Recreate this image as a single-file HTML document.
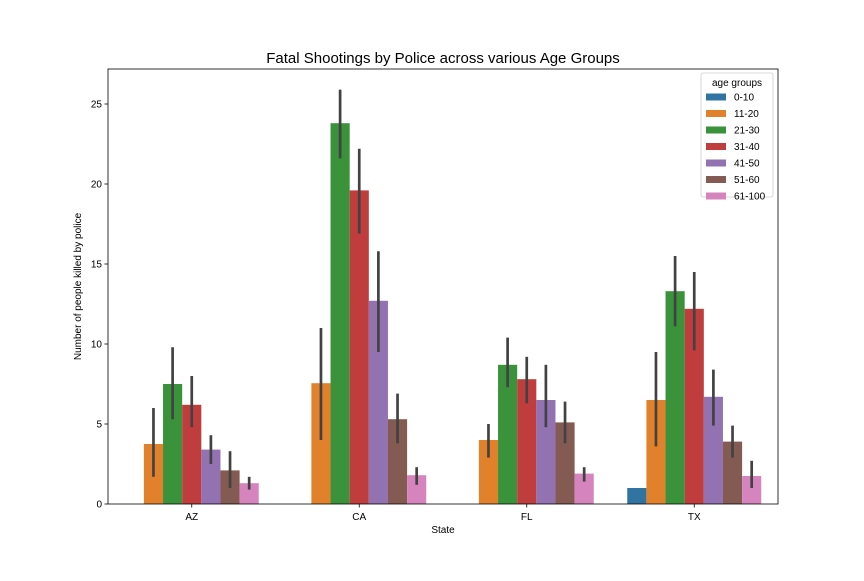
<!DOCTYPE html>
<html><head><meta charset="utf-8"><style>
body{margin:0;background:#fff;font-family:"Liberation Sans","DejaVu Sans",sans-serif}
</style></head><body>
<svg id="c" width="864" height="576" xmlns="http://www.w3.org/2000/svg"></svg>
<script>
const states=["AZ","CA","FL","TX"];
const groups=["0-10","11-20","21-30","31-40","41-50","51-60","61-100"];
const colors=["#3274a1","#e1812c","#3a923a","#c03d3e","#9372b2","#845b53","#d684bd"];
const vals=[[null,3.75,7.5,6.2,3.4,2.1,1.3],[null,7.55,23.8,19.6,12.7,5.3,1.8],[null,4.0,8.7,7.8,6.5,5.1,1.9],[1.0,6.5,13.3,12.2,6.7,3.9,1.75]];
const errLo=[[null,1.7,5.3,4.8,2.5,1.0,0.9],[null,4.0,21.6,16.9,9.5,3.8,1.2],[null,2.9,7.3,6.3,4.8,3.8,1.4],[null,3.6,11.1,9.6,4.9,2.9,1.0]];
const errHi=[[null,6.0,9.8,8.0,4.3,3.3,1.7],[null,11.0,25.9,22.2,15.8,6.9,2.3],[null,5.0,10.4,9.2,8.7,6.4,2.3],[null,9.5,15.5,14.5,8.4,4.9,2.7]];
const yTicks=[0,5,10,15,20,25];
const L=108,R=778,T=69,B=504,NS="http://www.w3.org/2000/svg";
const svg=document.getElementById('c');
const y=v=>B-v*16;
const gw=(R-L)/states.length, bw=gw*0.8/groups.length;
const x=(si,gi)=>L+gw*si+gw*0.1+bw*gi;
function el(t,a,txt){const e=document.createElementNS(NS,t);for(const k in a)e.setAttribute(k,a[k]);if(txt!=null)e.textContent=txt;svg.appendChild(e);return e;}
states.forEach((s,si)=>groups.forEach((g,gi)=>{
  const v=vals[si][gi]; if(v==null)return;
  const r=el('rect',{x:x(si,gi),y:y(v),width:bw,height:B-y(v),fill:colors[gi]});
  
  
  if(errLo[si][gi]!=null){
    const cx=x(si,gi)+bw/2;
    const l=el('line',{x1:cx,x2:cx,y1:y(errLo[si][gi]),y2:y(errHi[si][gi]),stroke:'#424242','stroke-width':2.7});
    
    
  }
}));
const fr=el('rect',{x:L,y:T,width:R-L,height:B-T,fill:'none',stroke:'#000','stroke-width':0.8});


yTicks.forEach(t=>{
  el('line',{x1:L-3.5,x2:L,y1:y(t),y2:y(t),stroke:'#000','stroke-width':0.8});
  const tx=el('text',{x:L-6,y:y(t)+3.5,'text-anchor':'end','font-size':10},t);
  
  
});
states.forEach((s,si)=>{
  const cx=L+gw*(si+0.5);
  el('line',{x1:cx,x2:cx,y1:B,y2:B+3.5,stroke:'#000','stroke-width':0.8});
  const tx=el('text',{x:cx,y:B+16,'text-anchor':'middle','font-size':10},s);
  
  
});
let e=el('text',{x:(L+R)/2,y:533,'text-anchor':'middle','font-size':10},'State');


e=el('text',{x:0,y:0,'text-anchor':'middle','font-size':10,transform:`translate(81,${(T+B)/2}) rotate(-90)`},'Number of people killed by police');


e=el('text',{x:(L+R)/2,y:63,'text-anchor':'middle','font-size':15},'Fatal Shootings by Police across various Age Groups');


e=el('rect',{x:701,y:73,width:72,height:124,rx:2,fill:'#fff','fill-opacity':0.8,stroke:'#ccc','stroke-width':0.8});


e=el('text',{x:737,y:86,'text-anchor':'middle','font-size':10},'age groups');


groups.forEach((g,gi)=>{
  const yy=97+gi*16.5;
  el('rect',{x:706,y:yy-3.5,width:20,height:7,fill:colors[gi]});
  const t=el('text',{x:734,y:yy+3.5,'font-size':10},g);
  
  
});
</script>
</body></html>
